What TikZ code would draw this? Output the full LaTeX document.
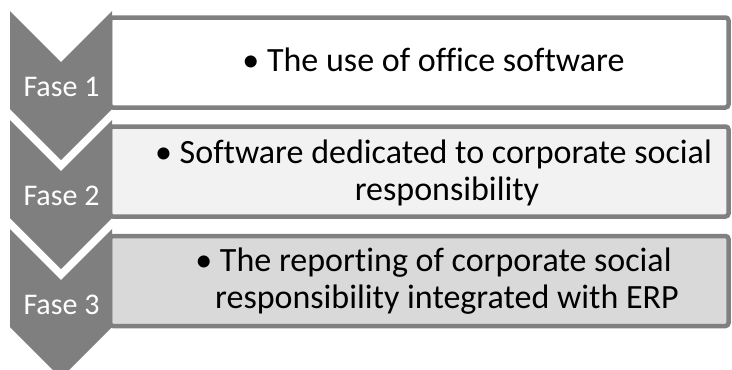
\documentclass[tikz,border=0pt]{standalone}
\usepackage{fontspec}
\setmainfont{Carlito}[Ligatures=CommonOff]
\definecolor{chev}{RGB}{127,127,127}
\definecolor{bord}{RGB}{128,128,128}
\definecolor{fillB}{RGB}{242,242,242}
\definecolor{fillC}{RGB}{217,217,217}
\tikzset{
  box/.style={draw=bord, line width=4.5pt, rounded corners=3pt, minimum width=618.5pt, minimum height=90pt, inner sep=0pt},
  chevron/.style={fill=chev},
  fase/.style={text=white, font=\fontsize{30}{36}\selectfont, anchor=base, inner sep=0pt},
  txt/.style={text=black, font=\fontsize{34}{37}\selectfont, anchor=base, inner sep=0pt}
}
\begin{document}
\begin{tikzpicture}[x=1pt,y=-1pt]
\useasboundingbox (0,0) rectangle (732,370);
% boxes
\node[box, fill=white] (b1) at (419.25,62.5) {};
\node[box, fill=fillB] (b2) at (419.25,171.5) {};
\node[box, fill=fillC] (b3) at (419.25,281) {};
% chevrons
\foreach \T/\n in {11/1,120/2,229/3}{
  \fill[chevron] (10,\T) -- (61,\T+51) -- (112,\T) -- (112,\T+98) -- (61,\T+149) -- (10,\T+98) -- cycle;
}
\node[fase] (f1) at (61.5,96) {Fase 1};
\node[fase] (f2) at (61.5,205) {Fase 2};
\node[fase] (f3) at (61.5,314) {Fase 3};
% texts
\node[txt] (t1) at (433.5,71.7) {• The use of office software};
\node[txt] (t2a) at (433.5,163.3) {• Software dedicated to corporate social};
\node[txt] (t2b) at (447,200) {responsibility};
\node[txt] (t3a) at (433.5,271.7) {• The reporting of corporate social};
\node[txt] (t3b) at (447,308.3) {responsibility integrated with ERP};
\end{tikzpicture}
\end{document}
